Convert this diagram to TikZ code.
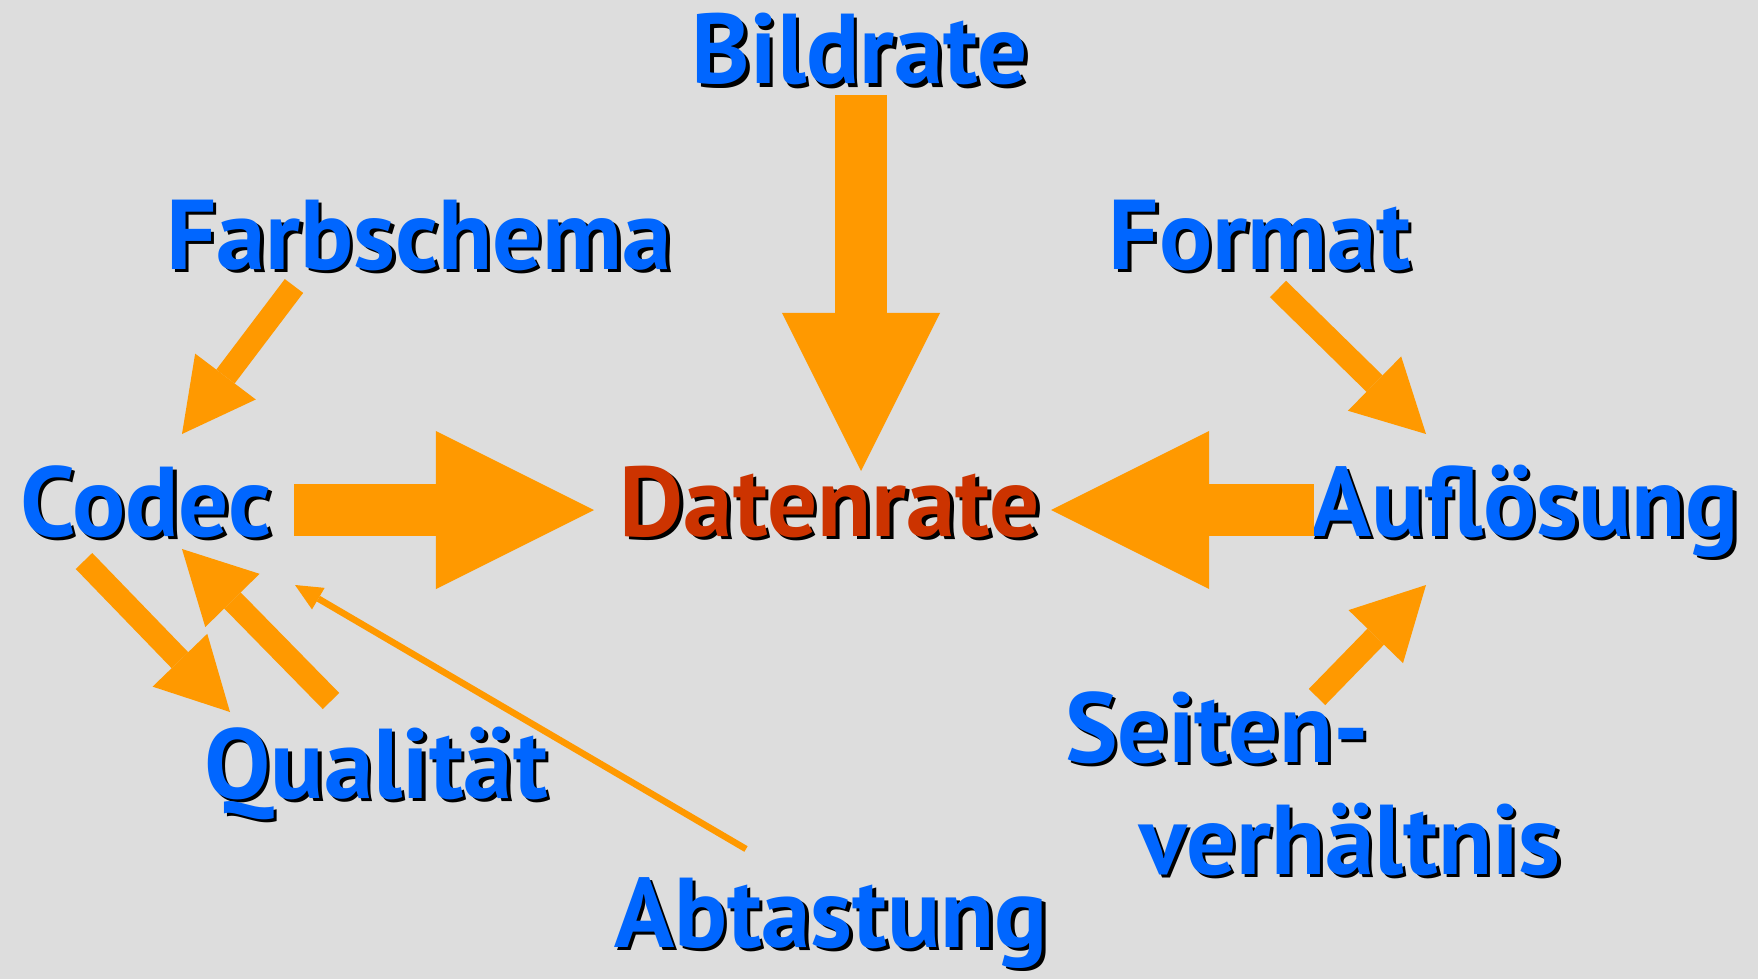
\documentclass[tikz,border=0pt]{standalone}
\usepackage{fontspec}
\setmainfont{PT Sans}
\usetikzlibrary{arrows.meta,calc}
\definecolor{vdblue}{RGB}{0,102,255}
\definecolor{vdred}{RGB}{204,51,0}
\definecolor{vdorange}{RGB}{255,153,0}
\definecolor{vdback}{RGB}{221,221,221}
\newcommand{\vdshadow}[2]{\makebox[0pt][l]{\hspace*{0.035cm}\raisebox{-0.035cm}{\color{black}#2}}{\color{#1}#2}}
\tikzset{
  vdlabel/.style={inner sep=0pt, anchor=base, font=\fontsize{28.2}{33}\selectfont\bfseries},
  vdfat/.style={-{Triangle[length=1.58cm, width=1.58cm, line width=0pt]}, line width=0.52cm, draw=vdorange},
  vdmid/.style={-{Triangle[length=0.72cm, width=0.76cm, line width=0pt]}, line width=0.23cm, draw=vdorange},
  vdthin/.style={-{Triangle[length=0.27cm, width=0.25cm, line width=0pt]}, line width=0.065cm, draw=vdorange}
}

\begin{document}
\begin{tikzpicture}[x=0.01cm, y=-0.01cm]
  \fill[vdback] (0,0) rectangle (1758,979);
  \useasboundingbox (0,0) rectangle (1758,979);
  % labels
  \node[vdlabel] (bild) at (860,84) {\vdshadow{vdblue}{Bildrate}};
  \node[vdlabel] (farb) at (419,269) {\vdshadow{vdblue}{Farbschema}};
  \node[vdlabel] (form) at (1260,269) {\vdshadow{vdblue}{Format}};
  \node[vdlabel] (codec) at (146,536) {\vdshadow{vdblue}{Codec}};
  \node[vdlabel] (daten) at (830,536) {\vdshadow{vdred}{Datenrate}};
  \node[vdlabel] (aufl) at (1525,536) {\vdshadow{vdblue}{Auflösung}};
  \node[vdlabel] (qual) at (376,798) {\vdshadow{vdblue}{Qualität}};
  \node[vdlabel] (abt) at (831,947) {\vdshadow{vdblue}{Abtastung}};
  \node[vdlabel] (seiten) at (1217,762) {\vdshadow{vdblue}{Seiten-}};
  \node[vdlabel] (verh) at (1350,874) {\vdshadow{vdblue}{verhältnis}};
  % big arrows into the data rate
  \draw[vdfat] ($(bild.base)+(1,11)$) -- ($(daten.base)+(31,-65)$);
  \draw[vdfat] ($(codec.base)+(148,-26)$) -- ($(daten.base)+(-236,-26)$);
  \draw[vdfat] ($(aufl.base)+(-211,-26)$) -- ($(daten.base)+(221,-26)$);
  % smaller arrows
  \draw[vdmid] ($(farb.base)+(-125,17)$) -- ($(codec.base)+(36,-102)$);
  \draw[vdmid] ($(form.base)+(18,20)$) -- ($(aufl.base)+(-99,-102)$);
  \draw[vdmid] ($(seiten.base)+(100,-65)$) -- ($(aufl.base)+(-99,49)$);
  \draw[vdmid] ($(codec.base)+(-62,25)$) -- ($(qual.base)+(-146,-86)$);
  \draw[vdmid] ($(qual.base)+(-45,-97)$) -- ($(codec.base)+(36,13)$);
  \draw[vdthin] ($(abt.base)+(-85,-98)$) -- ($(codec.base)+(149,49)$);
\end{tikzpicture}
\end{document}
